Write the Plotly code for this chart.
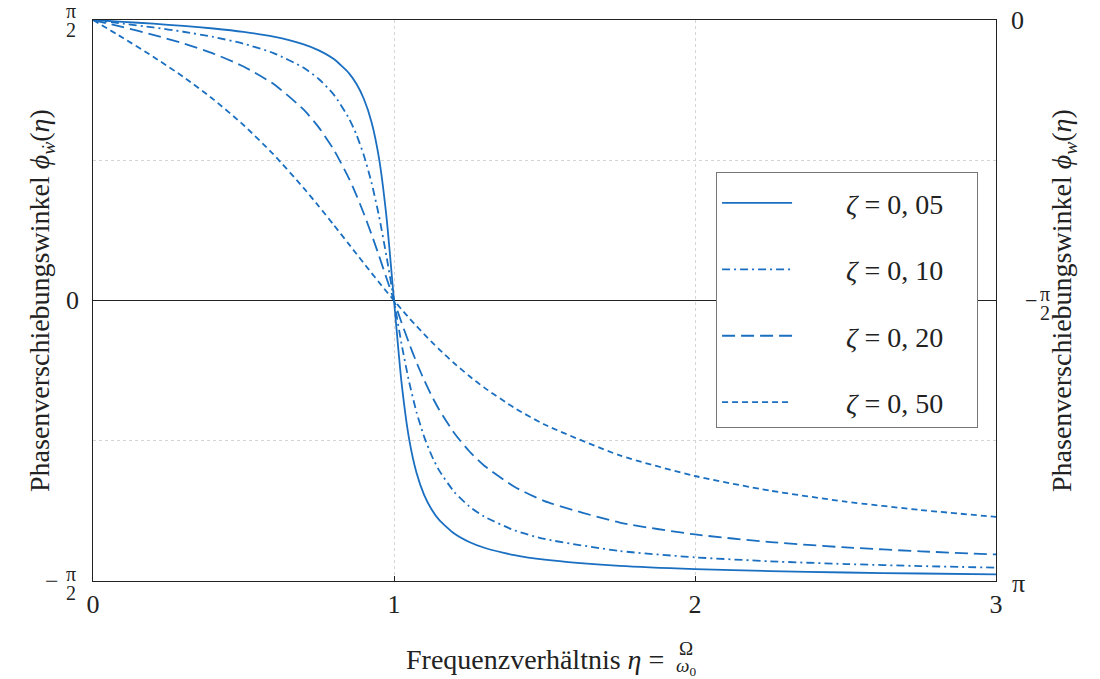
import math
import plotly.graph_objects as go

# frequency ratio eta
eta = [0.0, 0.1, 0.2, 0.3, 0.4, 0.5, 0.6, 0.7, 0.75, 0.8, 0.85, 0.875, 0.9, 0.925, 0.95, 0.975,
       1.0, 1.025, 1.05, 1.075, 1.1, 1.125, 1.15, 1.2, 1.25, 1.3, 1.4, 1.5,
       1.75, 2.0, 2.25, 2.5, 2.75, 3.0]

# phase angle values (rad)
phi_005 = [1.5708, 1.5607, 1.5500, 1.5378, 1.5232, 1.5042, 1.4773, 1.4344, 1.4010, 1.3521,
           1.2736, 1.2135, 1.1284, 1.0010, 0.7984, 0.4688,
           0.0, -0.4588, -0.7734, -0.9663, -1.0883, -1.1702, -1.2283, -1.3046, -1.3521, -1.3846,
           -1.4260, -1.4514, -1.4862, -1.5042, -1.5155, -1.5232, -1.5289, -1.5333]
phi_010 = [1.5708, 1.5506, 1.5292, 1.5050, 1.4758, 1.4382, 1.3855, 1.3029, 1.2405, 1.1526,
           1.0212, 0.9294, 0.8124, 0.6627, 0.4741, 0.2480,
           0.0, -0.2421, -0.4541, -0.6265, -0.7621, -0.8680, -0.9513, -1.0715, -1.1526, -1.2104,
           -1.2870, -1.3353, -1.4027, -1.4382, -1.4605, -1.4758, -1.4872, -1.4959]
phi_020 = [1.5708, 1.5304, 1.4877, 1.4397, 1.3826, 1.3102, 1.2120, 1.0687, 0.9697, 0.8442,
           0.6845, 0.5901, 0.4856, 0.3720, 0.2512, 0.1259,
           0.0, -0.1229, -0.2394, -0.3473, -0.4454, -0.5332, -0.6115, -0.7420, -0.8442, -0.9250,
           -1.0427, -1.1233, -1.2436, -1.3102, -1.3528, -1.3826, -1.4047, -1.4219]
phi_050 = [1.5708, 1.4701, 1.3654, 1.2524, 1.1263, 0.9828, 0.8176, 0.6297, 0.5281, 0.4229,
           0.3156, 0.2617, 0.2081, 0.1548, 0.1023, 0.0506,
           0.0, -0.0494, -0.0973, -0.1438, -0.1886, -0.2319, -0.2734, -0.3514, -0.4229, -0.4880,
           -0.6011, -0.6947, -0.8672, -0.9828, -1.0650, -1.1263, -1.1733, -1.2120]

NB = "&nbsp;"
series_names = ["<i>ζ</i> = 0, 05", "<i>ζ</i> = 0, 10", "<i>ζ</i> = 0, 20", "<i>ζ</i> = 0, 50"]
series_vals = [phi_005, phi_010, phi_020, phi_050]
dashes = ["solid", "8px,4px,2px,4px", "13px,6px", "6px,4px"]

x_ticks = [0, 1, 2, 3]
x_ticktext = ["0", "1", "2", "3"]
PI = math.pi
y_ticks = [-PI / 2, 0, PI / 2]
y_grid_minor = [-PI / 4, PI / 4]

COLOR = "#1a6fc1"
TXT = "#222"
FONT = "Liberation Serif"

fig = go.Figure()
for name, vals, d in zip(series_names, series_vals, dashes):
    fig.add_trace(go.Scatter(x=eta, y=vals, mode="lines", name=NB * 7 + name + NB * 4,
                             line=dict(color=COLOR, width=1.8, dash=d, shape="spline", smoothing=0.6),
                             legendgroup=name))

fig.update_layout(
    width=1100, height=679,
    margin=dict(l=93, r=104, t=20, b=98),
    plot_bgcolor="white", paper_bgcolor="white",
    font=dict(family=FONT, size=26, color=TXT),
    showlegend=True,
    legend=dict(x=0.69, y=0.729, xanchor="left", yanchor="top",
                bgcolor="white", bordercolor="#777", borderwidth=1,
                font=dict(family=FONT, size=28, color=TXT),
                tracegroupgap=27, itemwidth=70,
                title=dict(text=" ", font=dict(size=4))),
    xaxis=dict(range=[0, 3], tickvals=x_ticks, ticktext=x_ticktext,
               showgrid=True, gridcolor="#d4d4d4", griddash="dot", gridwidth=1,
               showline=True, linecolor=TXT, linewidth=1.2, mirror=True,
               zeroline=False, ticks="inside", ticklen=5, tickcolor=TXT,
               tickfont=dict(size=26)),
    yaxis=dict(range=[-PI / 2, PI / 2], tickvals=y_ticks, showticklabels=False,
               showgrid=False,
               minor=dict(tickvals=y_grid_minor, showgrid=True, gridcolor="#d4d4d4",
                          griddash="dot", gridwidth=1, ticks=""),
               showline=True, linecolor=TXT, linewidth=1.2, mirror=True,
               zeroline=True, zerolinecolor=TXT, zerolinewidth=1.2, ticks=""),
)

ann = []

def txt(text, xref, x, xshift, yref, y, yshift, size, xanchor="center"):
    ann.append(dict(text=text, xref=xref, x=x, xshift=xshift, yref=yref, y=y, yshift=yshift,
                    showarrow=False, font=dict(family=FONT, size=size, color=TXT),
                    xanchor=xanchor, yanchor="middle"))

def frac(num, den, xref, x, xshift, yref, y, yshift, size=20):
    txt(num, xref, x, xshift, yref, y, yshift + 9, size)
    txt(den, xref, x, xshift, yref, y, yshift - 10, size)

# left-axis labels
frac("π", "2", "paper", 0, -22, "y", PI / 2, 0)
txt("0", "paper", 0, -21, "y", 0, 0, 26)
frac("π", "2", "paper", 0, -22, "y", -PI / 2, -2)
txt("−", "paper", 0, -41, "y", -PI / 2, 0, 24)
# right-axis labels
txt("0", "paper", 1, 21, "y", PI / 2, 0, 26)
frac("π", "2", "paper", 1, 49, "y", 0, -2)
txt("−", "paper", 1, 35, "y", 0, 0, 22)
txt("π", "paper", 1, 22, "y", -PI / 2, -2, 26)

# axis titles
txt("Frequenzverhältnis <i>η</i> =", "paper", 0.6345, 0, "paper", 0, -78, 28, xanchor="right")
frac("Ω", "<i>ω</i><sub>0</sub>", "paper", 0.6567, 0, "paper", 0, -76, size=19)
ann.append(dict(text="Phasenverschiebungswinkel <i>ϕ</i><sub><i>ẇ</i></sub>(<i>η</i>)",
                xref="paper", x=0, xshift=-71, yref="paper", y=0.5, textangle=-90,
                showarrow=False, font=dict(family=FONT, size=28, color=TXT)))
ann.append(dict(text="Phasenverschiebungswinkel <i>ϕ</i><sub><i>w</i></sub>(<i>η</i>)",
                xref="paper", x=1, xshift=87, yref="paper", y=0.5, textangle=-90,
                showarrow=False, font=dict(family=FONT, size=28, color=TXT)))

fig.update_layout(annotations=ann)
fig.write_html("out.html", config={"displayModeBar": False},
               post_script="document.body.style.margin='0';")
